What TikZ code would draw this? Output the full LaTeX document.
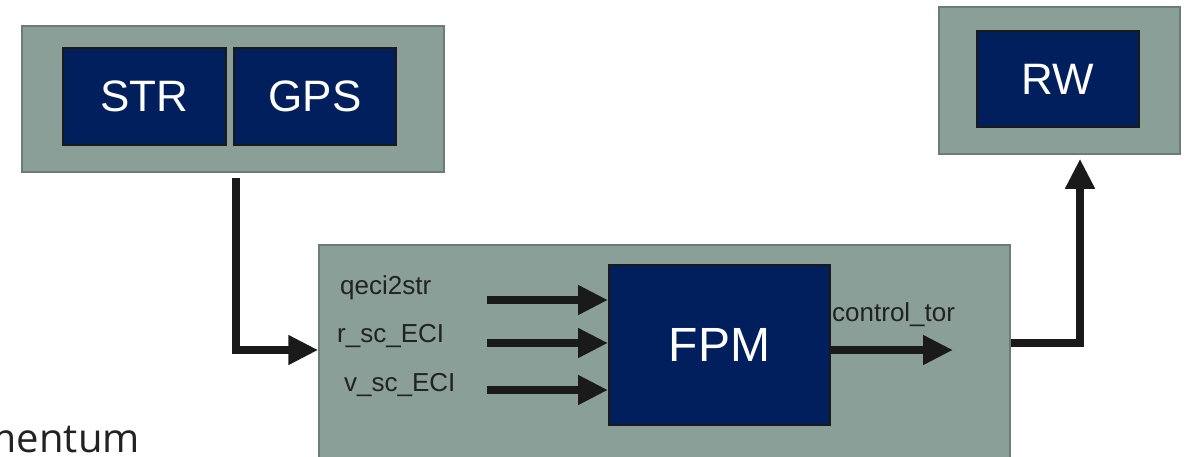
\documentclass[tikz,border=0pt]{standalone}
\usepackage{fontspec}
\setmainfont{Liberation Sans}
\newfontfamily\capfont{Open Sans}
\usetikzlibrary{arrows.meta,calc}
\definecolor{panelgrey}{HTML}{8A9F97}
\definecolor{paneledge}{HTML}{6D7D75}
\definecolor{unitnavy}{HTML}{001F5C}
\definecolor{wire}{HTML}{1A1A1A}
\definecolor{captext}{HTML}{222222}
\tikzset{
  panel/.style={draw=paneledge, fill=panelgrey, line width=1.5pt, inner sep=0pt},
  unit/.style={draw=wire, fill=unitnavy, line width=2pt, inner sep=0pt, text=white,
    font=\fontsize{44}{48}\selectfont},
  signal/.style={text=captext, font=\fontsize{26}{30}\selectfont, inner sep=0pt},
  flow/.style={draw=wire, line width=8pt, -{Triangle[length=30pt,width=28pt]}},
  plainflow/.style={draw=wire, line width=8pt},
}
\begin{document}
\begin{tikzpicture}[x=1pt,y=-1pt]
\useasboundingbox (0,0) rectangle (1188,456);
\clip (0,0) rectangle (1188,456);

% sensor panel with star tracker and GPS units
\node[panel, minimum width=422pt, minimum height=146pt] (sensors) at (233,99) {};
\node[unit, minimum width=163pt, minimum height=97pt] (str) at (144.5,96.5) {STR};
\node[unit, minimum width=162pt, minimum height=97pt] (gps) at (315,96.5) {GPS};

% actuator panel with reaction wheels
\node[panel, minimum width=241pt, minimum height=147pt] (actpanel) at (1059.5,80.5) {};
\node[unit, minimum width=162pt, minimum height=96pt] (rw) at (1058,79) {RW};

% processing panel (runs past the lower edge)
\node[panel, minimum width=691pt, minimum height=240pt] (proc) at (664.5,365) {};
\node[unit, minimum width=221pt, minimum height=160pt, font=\fontsize{48}{52}\selectfont] (fpm) at (719.5,345) {FPM};

% signal names
\node[signal, anchor=west] (qlab) at (340,288) {qeci2str};
\node[signal, anchor=west] (rlab) at (337,336) {r\_sc\_ECI};
\node[signal, anchor=west] (vlab) at (344,385) {v\_sc\_ECI};
\node[signal, anchor=west] (clab) at (832,315) {control\_tor};

% partial caption on the lower left
\node[anchor=base east, text=captext, inner sep=0pt, font=\capfont\fontsize{40}{44}\selectfont] (caption) at (140,452) {momentum};

% sensor data into the processing panel
\coordinate (sdrop) at (236,178);
\coordinate (sbend) at (236,350);
\draw[flow] (sdrop) -- (sbend) -- (sbend -| proc.west);

% inputs of the FPM
\coordinate (qin) at (487,300);
\coordinate (rin) at (487,343);
\coordinate (vin) at (487,390);
\draw[flow] (qin) -- (qin -| fpm.west);
\draw[flow] (rin) -- (rin -| fpm.west);
\draw[flow] (vin) -- (vin -| fpm.west);

% torque command out of the FPM
\coordinate (cout) at (953,350);
\draw[flow] (fpm.east |- cout) -- (cout);

% command path up to the reaction wheels
\coordinate (rbend) at (1080,343);
\draw[plainflow] (proc.east |- rbend) -- (rbend);
\draw[flow] ($(rbend)+(0,4)$) -- ($(rbend |- actpanel.south)+(0,4)$);
\end{tikzpicture}
\end{document}
